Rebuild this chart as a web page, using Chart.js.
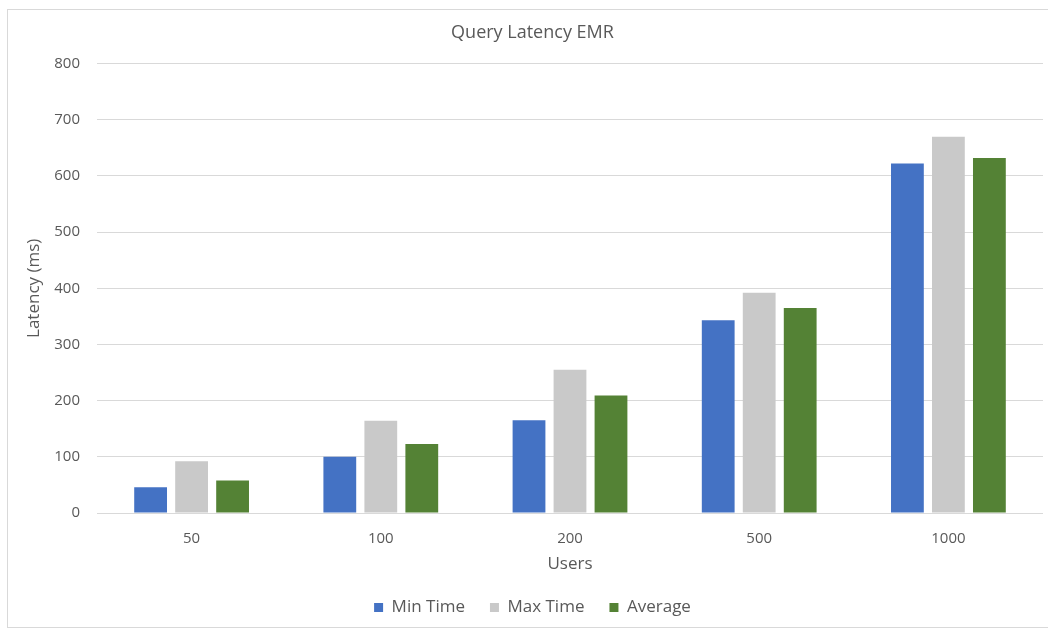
<!DOCTYPE html>
<html>
<head>
<meta charset="utf-8">
<title>Query Latency EMR</title>
<script src="https://cdn.jsdelivr.net/npm/chart.js@4.4.1/dist/chart.umd.min.js"></script>
<style>
  html, body { margin: 0; padding: 0; background: #ffffff; }
  #wrap { position: relative; width: 1048px; height: 631px; overflow: hidden; }
  #frame { position: absolute; left: 7px; top: 9px; width: 1060px; height: 619px;
           border: 1px solid #d9d9d9; box-sizing: border-box; }
  #chart { position: absolute; left: 0; top: 0; }
</style>
</head>
<body>
<div id="wrap">
  <div id="frame"></div>
  <canvas id="chart" width="1048" height="631"></canvas>
</div>
<script>
// Users on the x axis and the three latency series (ms)
const users   = ['50', '100', '200', '500', '1000'];
const minTime = [46, 100, 165, 343, 622];
const maxTime = [92, 164, 255, 392, 670];
const average = [58, 123, 209, 365, 632];

const seriesNames = ['Min Time', 'Max Time', 'Average'];
const yMin = 0, yMax = 800, yStep = 100;

const textGray = '#595959';
const font = 'Open Sans';

new Chart(document.getElementById('chart'), {
  type: 'bar',
  data: {
    labels: users,
    datasets: [
      { label: seriesNames[0], data: minTime, backgroundColor: '#4472C4' },
      { label: seriesNames[1], data: maxTime, backgroundColor: '#C9C9C9' },
      { label: seriesNames[2], data: average, backgroundColor: '#548235' }
    ]
  },
  options: {
    responsive: false,
    devicePixelRatio: 1,
    animation: false,
    categoryPercentage: 0.65,
    barPercentage: 0.80,
    layout: { padding: { left: 22, right: 5, top: 0, bottom: 5 } },
    plugins: {
      title: {
        display: true,
        text: 'Query Latency EMR',
        color: textGray,
        font: { family: font, size: 18, weight: 'normal' },
        padding: { top: 22, bottom: 20 }
      },
      legend: {
        position: 'bottom',
        labels: {
          color: textGray,
          font: { family: font, size: 17 },
          boxWidth: 9,
          boxHeight: 9,
          padding: 25
        }
      },
      tooltip: { enabled: false }
    },
    scales: {
      x: {
        grid: { display: false },
        border: { display: false },
        ticks: { color: textGray, font: { family: font, size: 15 }, padding: 9 },
        title: {
          display: true,
          text: 'Users',
          color: textGray,
          font: { family: font, size: 17 },
          padding: { top: 0, bottom: 0 }
        },
        afterFit: (scale) => { scale.height = 61; }
      },
      y: {
        min: yMin,
        max: yMax,
        grid: { color: '#d9d9d9', lineWidth: 1, drawTicks: false },
        border: { display: false },
        ticks: { stepSize: yStep, color: textGray, font: { family: font, size: 15 }, padding: 17 },
        title: {
          display: true,
          text: 'Latency (ms)',
          color: textGray,
          font: { family: font, size: 17 },
          padding: { top: 2, bottom: 0 }
        },
        afterFit: (scale) => { scale.width = 75; }
      }
    }
  }
});
</script>
</body>
</html>
